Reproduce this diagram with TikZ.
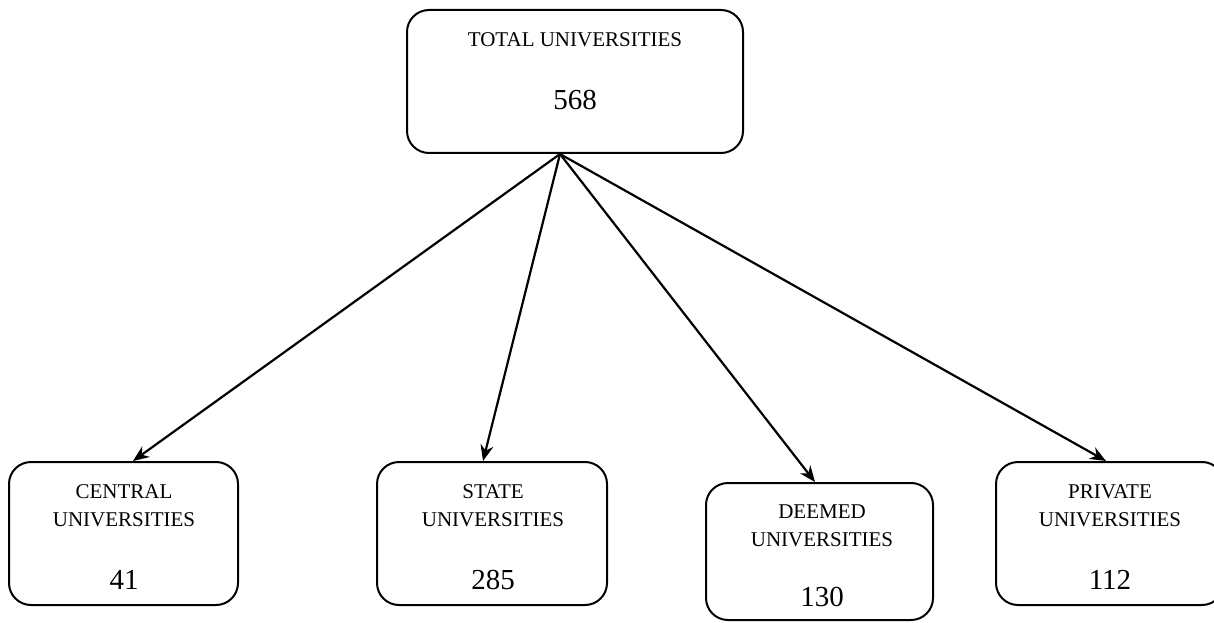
\documentclass[tikz,border=0pt]{standalone}
\usepackage{fontspec}
\setmainfont{Liberation Serif}
\usetikzlibrary{arrows.meta}
\begin{document}
\begin{tikzpicture}[x=1pt,y=1pt,
  box/.style={draw=black,line width=2pt,rounded corners=22pt,inner sep=0pt},
  lbl/.style={font=\fontsize{21}{24}\selectfont,inner sep=0pt,anchor=center},
  num/.style={font=\fontsize{29}{32}\selectfont,inner sep=0pt,anchor=center},
  conn/.style={line width=2.2pt,-{Stealth[length=16pt,width=13pt]}}]
\useasboundingbox (0,0) rectangle (1214,622);
% boxes
\node[box,minimum width=336pt,minimum height=143pt] (top) at (575,540.5) {};
\node[box,minimum width=229pt,minimum height=143pt] (central) at (123.5,88.5) {};
\node[box,minimum width=230pt,minimum height=143pt] (state) at (492,88.5) {};
\node[box,minimum width=227pt,minimum height=137pt] (deemed) at (819.5,70.5) {};
\node[box,minimum width=228pt,minimum height=143pt] (private) at (1110,88.5) {};
% labels
\node[lbl] (tl) at (575,582) {TOTAL UNIVERSITIES};
\node[num] (tn) at (575,522) {568};
\node[lbl] (cl1) at (124,130) {CENTRAL};
\node[lbl] (cl2) at (124,102) {UNIVERSITIES};
\node[num] (cn) at (124,42) {41};
\node[lbl] (sl1) at (493,130) {STATE};
\node[lbl] (sl2) at (493,102) {UNIVERSITIES};
\node[num] (sn) at (493,42) {285};
\node[lbl] (dl1) at (822,110) {DEEMED};
\node[lbl] (dl2) at (822,82) {UNIVERSITIES};
\node[num] (dn) at (822,25) {130};
\node[lbl] (pl1) at (1110,130) {PRIVATE};
\node[lbl] (pl2) at (1110,102) {UNIVERSITIES};
\node[num] (pn) at (1110,42) {112};
% connectors
\coordinate (o) at (top.south -| 560,0);
\coordinate (ce) at (central.north -| 133,0);
\coordinate (se) at (state.north -| 483,0);
\coordinate (de) at (deemed.north -| 815,0);
\coordinate (pe) at (private.north -| 1106,0);
\draw[conn] (o) -- (ce);
\draw[conn] (o) -- (se);
\draw[conn] (o) -- (de);
\draw[conn] (o) -- (pe);
\end{tikzpicture}
\end{document}
